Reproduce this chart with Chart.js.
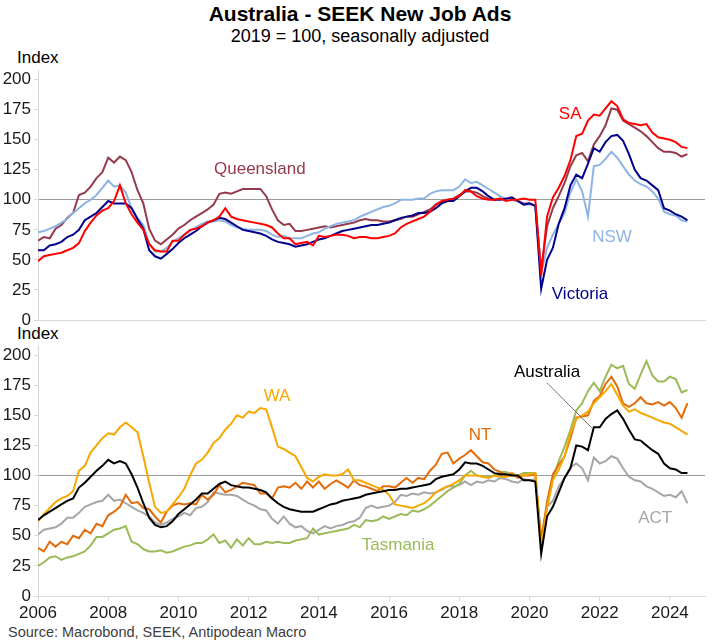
<!DOCTYPE html>
<html><head><meta charset="utf-8">
<script src="https://cdn.jsdelivr.net/npm/chart.js@4.4.1/dist/chart.umd.min.js"></script>
<style>
html,body{margin:0;padding:0;background:#fff;}
body{width:720px;height:640px;position:relative;overflow:hidden;font-family:'Liberation Sans',Arial,sans-serif;}
canvas{position:absolute;left:0;top:0;}
.t{position:absolute;white-space:nowrap;color:#000;line-height:1;}
</style></head><body>
<div class="t" style="left:0;width:720px;text-align:center;top:2.5px;font-weight:bold;font-size:21px;">Australia - SEEK New Job Ads</div>
<div class="t" style="left:0;width:720px;text-align:center;top:27px;font-size:18px;">2019 = 100, seasonally adjusted</div>
<div class="t" style="left:17px;top:48.5px;font-size:17px;">Index</div>
<div class="t" style="left:17px;top:325px;font-size:17px;">Index</div>
<div class="t" style="left:8px;top:625px;font-size:14.5px;color:#404040;">Source: Macrobond, SEEK, Antipodean Macro</div>
<canvas id="c1" width="720" height="640"></canvas>
<canvas id="c2" width="720" height="640"></canvas>
<script>
// ---- time axis: bimonthly readings, Jan 2006 .. Jul 2024 ----
const startYear = 2006;
const monthsPerStep = 2;
const nPoints = 112;
const dates = Array.from({length: nPoints}, (_, i) => startYear + i * monthsPerStep / 12);

// ---- top panel series ----
const queensland = [
66,69,68,76,79,85, 89,104,106,111,118,123, 135,131,136,133,123,108, 97,76,66,63,67,71,
76,79,83,86,89,92, 96,105,106,105,107,109, 109,109,109,103,92,83, 79,80,74,74,75,76,
77,78,77,78,79,80, 81,83,84,83,83,82, 82,83,84,86,86,88, 90,92,96,98,100,101,
104,107,107,106,103,101, 100,101,100,100,99,97, 97,95,42,78,93,103, 114,128,137,139,132,146,
153,162,176,175,166,163, 160,157,153,148,143,140, 140,139,136,138];
const nsw = [
73,74,76,78,81,84, 89,93,97,100,104,110, 116,111,112,106,93,85, 79,64,57,57,60,65,
68,71,74,77,80,82, 82,83,82,79,77,76, 75,75,75,74,71,69, 70,68,68,68,70,72,
73,76,78,80,81,82, 83,86,88,90,92,94, 95,97,100,100,100,101, 101,105,107,108,108,108,
111,117,114,115,112,109, 106,103,101,100,99,96, 96,95,39,60,71,80, 89,106,117,107,86,128,
129,134,140,135,128,121, 116,113,111,107,101,90, 88,87,83,82];
const victoria = [
58,58,62,63,65,69, 71,75,83,86,89,94, 99,97,97,97,93,84, 76,58,53,51,55,59,
64,68,71,74,78,81, 83,85,84,81,78,75, 74,73,72,70,67,65, 64,63,61,62,63,65,
67,68,70,72,74,75, 76,77,78,79,79,80, 81,83,85,86,87,89, 89,90,93,97,99,99,
103,107,110,110,107,103, 100,100,101,102,99,96, 97,95,26,50,60,80, 93,112,121,118,130,143,
140,148,153,154,149,138, 125,118,116,112,108,93, 91,88,86,83];
const sa = [
49,53,54,55,56,58, 60,64,74,81,87,91, 93,99,112,97,88,81, 75,63,58,57,57,66,
66,71,75,76,78,81, 83,86,93,86,84,83, 82,81,80,79,77,72, 68,68,63,64,65,62,
70,69,70,71,71,70, 68,69,69,68,68,69, 70,72,77,80,82,84, 86,90,96,99,100,101,
103,108,107,103,101,100, 100,101,99,100,100,101, 100,100,37,86,102,110, 120,133,153,155,166,171,
170,176,182,178,167,164, 163,162,163,156,152,151, 150,148,144,143];

// ---- bottom panel series ----
const australia = [
63,67,70,73,76,79, 81,90,94,99,104,108, 113,110,112,110,101,90, 77,65,59,57,58,62,
68,72,76,80,85,85, 89,93,95,92,91,90, 90,89,88,86,81,77, 74,72,71,70,70,70,
72,74,76,77,79,80, 81,82,84,85,86,87, 88,88,89,89,90,91, 92,93,97,99,100,101,
105,111,110,110,108,105, 102,101,101,100,100,96, 96,95,35,66,74,86, 98,106,125,124,121,140,
140,147,151,154,147,138, 130,129,125,121,118,110, 106,105,102,102];
const wa = [
62,68,73,78,81,83, 87,104,108,119,125,131, 135,134,140,144,140,136, 116,94,74,69,70,76,
82,89,100,110,113,119, 127,131,138,143,150,148, 153,152,156,155,140,124, 122,119,116,107,98,95,
99,101,100,100,101,105, 96,96,94,92,90,88, 84,76,75,74,73,75, 77,81,86,89,91,93,
96,100,100,100,99,98, 100,99,99,100,100,100, 101,102,41,73,96,105, 116,135,147,150,153,160,
165,170,176,167,158,153, 155,152,150,148,146,144, 143,140,137,134];
const nt = [
40,37,45,41,45,43, 50,48,55,52,60,58, 67,70,74,84,77,78, 73,72,66,61,70,75,
77,76,77,76,84,80, 84,92,86,88,91,94, 93,92,85,85,81,90, 91,90,94,89,95,90,
95,89,93,96,93,90, 96,92,91,89,87,91, 91,90,94,98,94,98, 97,104,109,118,119,110,
114,117,121,116,111,110, 105,103,100,102,98,100, 100,101,46,78,101,109, 116,131,148,149,150,162,
166,176,182,174,160,157, 160,165,160,159,161,158, 161,156,148,160];
const tasmania = [
25,28,32,33,30,32, 33,35,37,42,49,49, 52,55,56,58,45,43, 39,37,37,38,36,37,
39,41,42,44,44,47, 51,44,46,40,47,42, 48,43,43,45,44,45, 44,44,46,47,48,56,
51,52,53,54,55,56, 59,57,63,62,63,66, 64,66,68,67,71,70, 72,75,79,83,87,90,
93,100,104,100,99,99, 100,103,103,101,100,102, 102,102,41,76,97,112, 124,138,154,160,170,177,
170,182,192,189,191,176, 172,184,195,183,178,178, 182,180,169,171];
const act = [
51,55,56,57,60,65, 65,69,74,76,78,79, 84,79,80,77,74,71, 69,66,61,59,61,64,
66,69,67,73,74,78, 86,85,84,84,83,80, 77,75,72,71,64,60, 66,60,57,58,54,52,
55,58,56,58,59,61, 62,65,73,75,73,74, 75,78,84,83,85,84, 86,85,86,88,91,91,
92,95,92,95,94,96, 95,98,97,95,94,97, 96,97,49,74,79,91, 98,107,110,106,96,115,
110,112,116,114,106,99, 96,95,91,89,86,83, 84,82,87,77];

// ---- axis ticks ----
const yTickValues = [0,25,50,75,100,125,150,175,200];
const xTickValues = [2006,2008,2010,2012,2014,2016,2018,2020,2022,2024];
const referenceLevel = 100;

// ---- series labels (data coordinates) ----
const topLabels = [
  {text:'Queensland', x:2012.32, y:125, color:'#953A4C'},
  {text:'SA', x:2021.16, y:171, color:'#FF0000'},
  {text:'NSW', x:2022.35, y:69, color:'#8DB4E2'},
  {text:'Victoria', x:2021.44, y:21, color:'#00008C'}
];
const bottomLabels = [
  {text:'WA', x:2012.81, y:166, color:'#F6A800'},
  {text:'NT', x:2018.59, y:133.6, color:'#E36C0A'},
  {text:'Tasmania', x:2016.26, y:42.3, color:'#9BBB59'},
  {text:'ACT', x:2023.58, y:64.7, color:'#A6A6A6'},
  {text:'Australia', x:2020.5, y:186, color:'#000000', line:[2020.5,177,2021.78,139.4]}
];

const FONT = "'Liberation Sans', Arial, sans-serif";
Chart.defaults.font.family = FONT;
Chart.defaults.color = '#1a1a1a';

const labelPlugin = {
  id: 'seriesLabels',
  afterDatasetsDraw(chart, args, opts) {
    const {ctx} = chart; const x = chart.scales.x, y = chart.scales.y;
    ctx.save();
    ctx.font = '17px ' + FONT;
    ctx.textAlign = 'center'; ctx.textBaseline = 'middle';
    (opts.items || []).forEach(it => {
      if (it.line) {
        ctx.strokeStyle = '#555'; ctx.lineWidth = 0.8;
        ctx.beginPath();
        ctx.moveTo(x.getPixelForValue(it.line[0]), y.getPixelForValue(it.line[1]));
        ctx.lineTo(x.getPixelForValue(it.line[2]), y.getPixelForValue(it.line[3]));
        ctx.stroke();
      }
      ctx.fillStyle = it.color;
      ctx.fillText(it.text, x.getPixelForValue(it.x), y.getPixelForValue(it.y));
    });
    ctx.restore();
  }
};

function ds(label, values, color) {
  return {label, data: values.map((v, i) => ({x: dates[i], y: v})), borderColor: color,
    backgroundColor: color, borderWidth: 2, pointRadius: 0, tension: 0, fill: false};
}

function makeChart(id, datasets, labels, padTop, padBottom, showX) {
  return new Chart(document.getElementById(id), {
    type: 'line',
    data: {datasets},
    plugins: [labelPlugin],
    options: {
      responsive: false, animation: false, devicePixelRatio: 1,
      layout: {padding: {left: 0, right: 15, top: padTop, bottom: padBottom}},
      plugins: {legend: {display: false}, tooltip: {enabled: false}, title: {display: false},
        seriesLabels: {items: labels}},
      scales: {
        x: {type: 'linear', min: 2006, max: 2025,
          afterBuildTicks: s => { s.ticks = xTickValues.map(v => ({value: v})); },
          afterFit: s => { s.height = showX ? 30 : 0; },
          border: {display: true, color: '#d9d9d9', width: 1},
          grid: {display: showX, drawOnChartArea: false, drawTicks: true, tickLength: 5, tickColor: '#d9d9d9'},
          ticks: {display: showX, font: {size: 17}, color: '#1a1a1a', padding: 2, maxRotation: 0,
            callback: v => String(v)}
        },
        y: {type: 'linear', min: 0, max: 208,
          afterBuildTicks: s => { s.ticks = yTickValues.map(v => ({value: v})); },
          afterFit: s => { s.width = 38; },
          border: {display: true, color: '#d9d9d9', width: 1},
          grid: {drawOnChartArea: true, drawTicks: true, tickLength: 4,
            color: c => (c.tick && c.tick.value === referenceLevel) ? '#9a9a9a' : 'rgba(0,0,0,0)',
            tickColor: '#d9d9d9', lineWidth: 1},
          ticks: {font: {size: 17}, color: '#1a1a1a', padding: 3, callback: v => String(v)}
        }
      }
    }
  });
}

makeChart('c1', [
  ds('SA', sa, '#FF0000'),
  ds('Victoria', victoria, '#00008C'),
  ds('NSW', nsw, '#8DB4E2'),
  ds('Queensland', queensland, '#953A4C')
], topLabels, 70, 320, false);

makeChart('c2', [
  ds('Australia', australia, '#000000'),
  ds('WA', wa, '#F6A800'),
  ds('NT', nt, '#E36C0A'),
  ds('Tasmania', tasmania, '#9BBB59'),
  ds('ACT', act, '#A6A6A6')
], bottomLabels, 345.4, 14, true);
</script>
</body></html>
